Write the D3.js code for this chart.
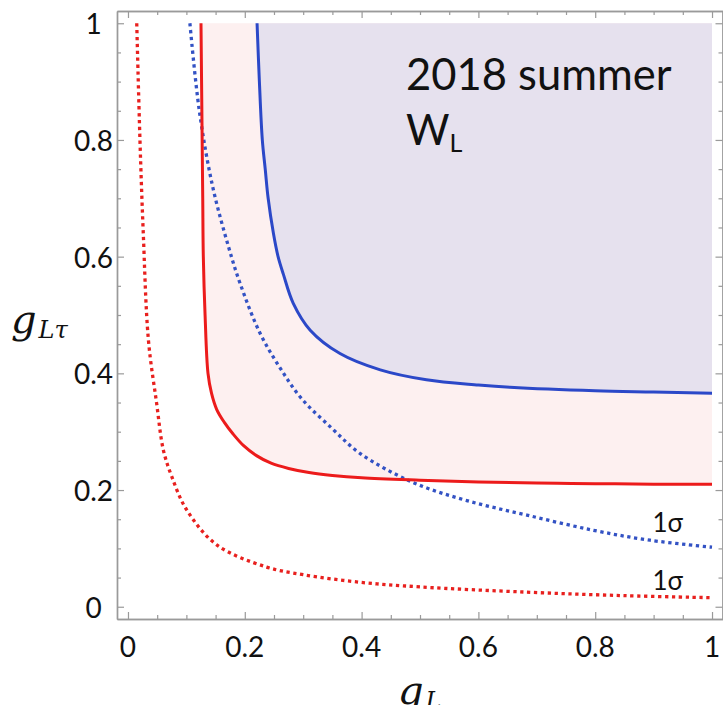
<!DOCTYPE html>
<html>
<head>
<meta charset="utf-8">
<script src="https://cdn.jsdelivr.net/npm/d3@7"></script>
<style>
  html, body { margin: 0; padding: 0; background: #fff; }
  svg { display: block; }
</style>
</head>
<body>
<svg id="chart" width="723" height="705"></svg>
<script>
// Tick values and labels
const majorTicks = [0, 0.2, 0.4, 0.6, 0.8, 1];
const minorTicks = [0.05, 0.1, 0.15, 0.25, 0.3, 0.35, 0.45, 0.5, 0.55, 0.65, 0.7, 0.75, 0.85, 0.9, 0.95];
const xTickLabels = ["0", "0.2", "0.4", "0.6", "0.8", "1"];
const yTickLabels = ["0", "0.2", "0.4", "0.6", "0.8", "1"];

// Boundary curves in the (g_L, g_Lτ) plane, as [g_L, g_Lτ] pairs
const redSolid = [
  [0.125, 1.0], [0.126, 0.9], [0.127, 0.8], [0.128, 0.7], [0.129, 0.6],
  [0.132, 0.5], [0.137, 0.4], [0.143, 0.366], [0.152, 0.338], [0.165, 0.316],
  [0.18, 0.296], [0.198, 0.276], [0.22, 0.259], [0.245, 0.246], [0.275, 0.237],
  [0.31, 0.230], [0.35, 0.225], [0.4, 0.221], [0.5, 0.217], [0.6, 0.214],
  [0.7, 0.212], [0.8, 0.211], [0.9, 0.210], [1.0, 0.210]
];
const blueSolid = [
  [0.221, 1.0], [0.225, 0.9], [0.230, 0.8], [0.235, 0.75], [0.240, 0.70],
  [0.249, 0.64], [0.257, 0.60], [0.266, 0.57], [0.283, 0.52], [0.312, 0.474],
  [0.363, 0.434], [0.432, 0.406], [0.511, 0.389], [0.6, 0.380], [0.654, 0.376],
  [0.8, 0.370], [0.9, 0.368], [1.0, 0.366]
];
const blueDotted = [
  [0.106, 1.0], [0.122, 0.851], [0.145, 0.72], [0.173, 0.614], [0.192, 0.554],
  [0.226, 0.469], [0.26, 0.41], [0.297, 0.357], [0.35, 0.305], [0.397, 0.263],
  [0.488, 0.213], [0.58, 0.182], [0.683, 0.157], [0.797, 0.131], [0.894, 0.114],
  [1.0, 0.102]
];
const redDotted = [
  [0.015, 1.0], [0.0205, 0.8], [0.026, 0.645], [0.035, 0.457], [0.049, 0.349],
  [0.0605, 0.269], [0.075, 0.223], [0.1005, 0.166], [0.152, 0.106],
  [0.2375, 0.068], [0.3, 0.055], [0.397, 0.042], [0.5, 0.034],
  [0.683, 0.025], [0.85, 0.019], [1.0, 0.0155]
];

const sigmaLabels = [
  { text: "1σ", x: 0.898, y: 0.128 },
  { text: "1σ", x: 0.898, y: 0.029 }
];

const svg = d3.select("#chart");
const frame = { left: 117, right: 723, top: 11, bottom: 619 };

const x = d3.scaleLinear().domain([-0.0188, 1.0188]).range([frame.left, frame.right]);
const y = d3.scaleLinear().domain([-0.021, 1.021]).range([frame.bottom, frame.top]);

const line = d3.line().x(d => x(d[0])).y(d => y(d[1])).curve(d3.curveCatmullRom.alpha(0.5));

// Shaded regions: pink above the red bound, lavender above the blue bound
svg.append("path").attr("d", line(redSolid) + "L" + x(1) + "," + y(1) + "Z")
  .attr("fill", "#fdf0f0").attr("stroke", "none");
svg.append("path").attr("d", line(blueSolid) + "L" + x(1) + "," + y(1) + "Z")
  .attr("fill", "#e6e1ee").attr("stroke", "none");

// Frame and ticks
const axisColor = "#9a9a9a";
function styleAxis(g) {
  g.selectAll("path.domain").attr("stroke", axisColor).attr("stroke-width", 1.4);
  g.selectAll(".tick line").attr("stroke", axisColor).attr("stroke-width", 1.2);
  g.selectAll(".tick text").remove();
}
function addAxis(gen, tx, ty, ticks, size) {
  const g = svg.append("g").attr("transform", `translate(${tx},${ty})`)
    .call(gen.tickValues(ticks).tickSizeInner(-size).tickSizeOuter(0));
  styleAxis(g);
  return g;
}
addAxis(d3.axisBottom(x), 0, frame.bottom, majorTicks, 7);
addAxis(d3.axisBottom(x), 0, frame.bottom, minorTicks, 4);
addAxis(d3.axisTop(x), 0, frame.top, majorTicks, 7);
addAxis(d3.axisTop(x), 0, frame.top, minorTicks, 4);
addAxis(d3.axisLeft(y), frame.left, 0, majorTicks, 7);
addAxis(d3.axisLeft(y), frame.left, 0, minorTicks, 4);
addAxis(d3.axisRight(y), frame.right - 0.5, 0, majorTicks, 7);
addAxis(d3.axisRight(y), frame.right - 0.5, 0, minorTicks, 4);

// Boundary curves
svg.append("path").attr("d", line(redDotted)).attr("fill", "none")
  .attr("stroke", "#e8201e").attr("stroke-width", 3.3).attr("stroke-dasharray", "3.3,3.6");
svg.append("path").attr("d", line(blueDotted)).attr("fill", "none")
  .attr("stroke", "#3352c4").attr("stroke-width", 3.3).attr("stroke-dasharray", "3.3,3.6");
svg.append("path").attr("d", line(redSolid)).attr("fill", "none")
  .attr("stroke", "#ec1b1b").attr("stroke-width", 3);
svg.append("path").attr("d", line(blueSolid)).attr("fill", "none")
  .attr("stroke", "#2b48c8").attr("stroke-width", 3);

// Tick labels
const labelFont = "Lato, 'Open Sans', sans-serif";
svg.append("g").selectAll("text").data(majorTicks).join("text")
  .attr("x", d => x(d)).attr("y", 657)
  .attr("text-anchor", "middle")
  .attr("font-family", labelFont).attr("font-size", 28).attr("fill", "#111")
  .text((d, i) => xTickLabels[i]);
svg.append("g").selectAll("text").data(majorTicks).join("text")
  .attr("x", 93.5).attr("y", d => y(d) + 11)
  .attr("text-anchor", "middle")
  .attr("font-family", labelFont).attr("font-size", 28).attr("fill", "#111")
  .text((d, i) => yTickLabels[i]);

// Axis titles
const mathFont = "'DejaVu Serif', serif";
const yTitle = svg.append("text").attr("x", 11).attr("y", 333)
  .attr("font-family", mathFont).attr("font-style", "italic").attr("font-size", 40).attr("fill", "#111");
yTitle.append("tspan").text("g");
yTitle.append("tspan").attr("dy", 5).attr("dx", 2).attr("font-size", 24).text("Lτ");

const xTitle = svg.append("text").attr("x", 398).attr("y", 704)
  .attr("font-family", mathFont).attr("font-style", "italic").attr("font-size", 40).attr("fill", "#111");
xTitle.append("tspan").text("g");
xTitle.append("tspan").attr("dy", 5).attr("dx", 2).attr("font-size", 24).text("L");

// Sigma labels
svg.append("g").selectAll("text").data(sigmaLabels).join("text")
  .attr("x", d => x(d.x)).attr("y", d => y(d.y))
  .attr("font-family", labelFont).attr("font-size", 26).attr("fill", "#111")
  .text(d => d.text);

// Panel title
const title = svg.append("g").attr("font-family", labelFont).attr("fill", "#111");
title.append("text").attr("x", 406).attr("y", 90).attr("font-size", 43.5).text("2018 summer");
const wl = title.append("text").attr("x", 406).attr("y", 145).attr("font-size", 42);
wl.append("tspan").text("W");
wl.append("tspan").attr("dy", 7).attr("font-size", 25).text("L");
</script>
</body>
</html>
